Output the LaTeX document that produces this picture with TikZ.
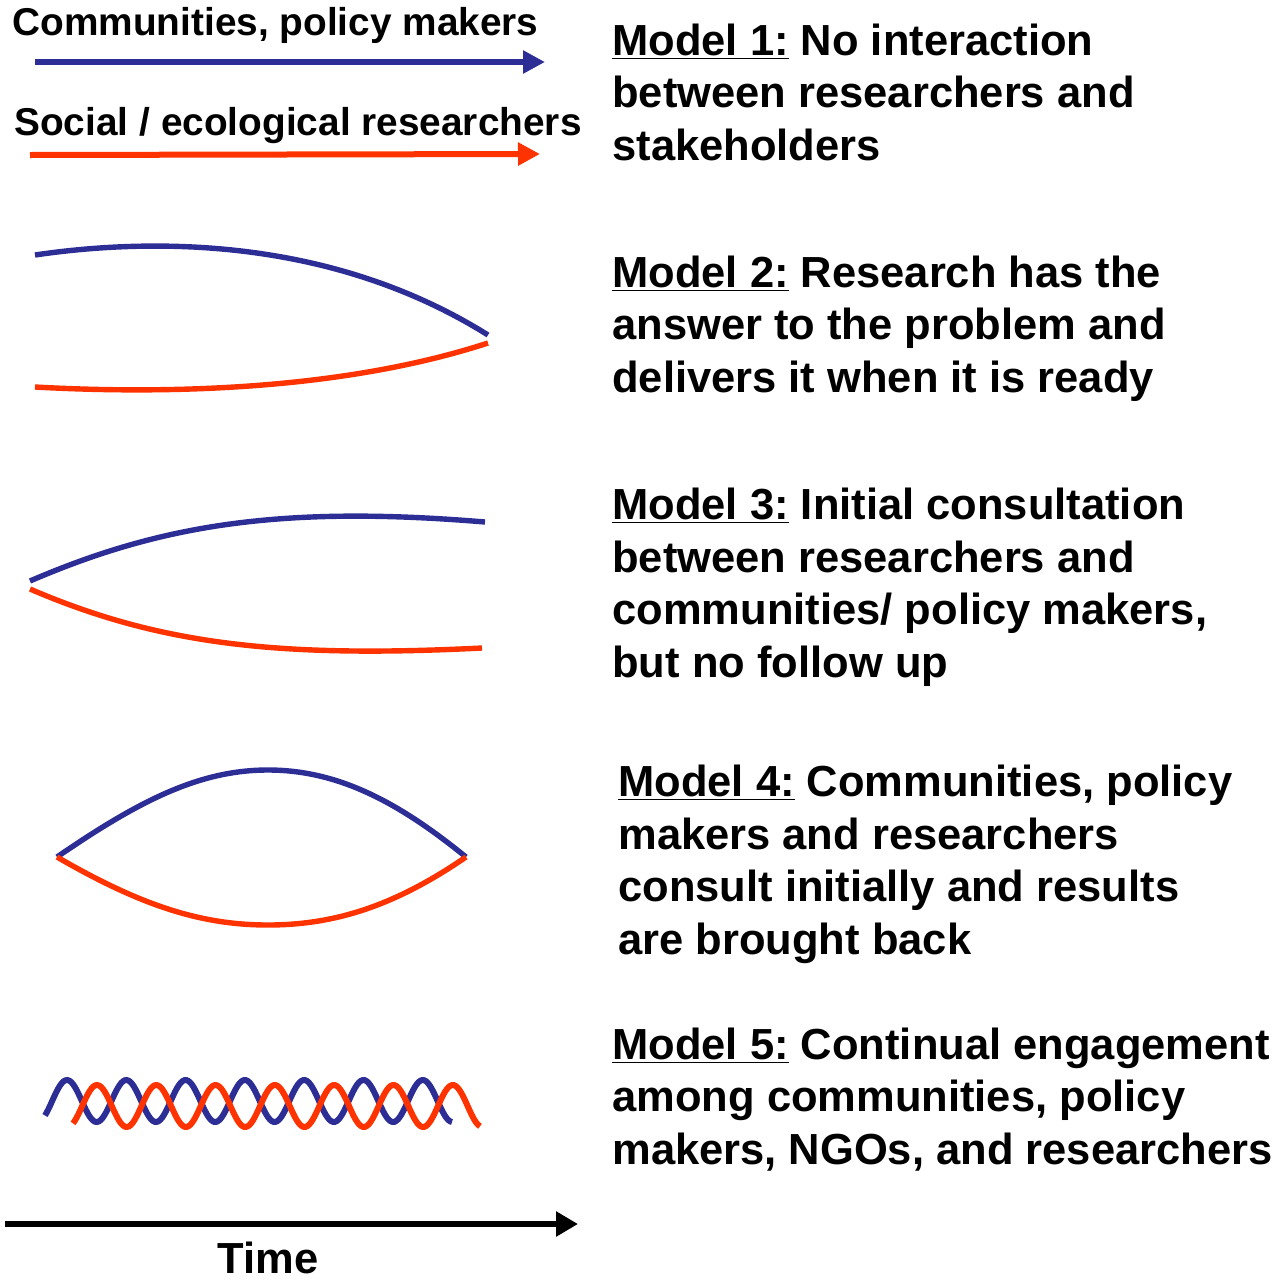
\documentclass[tikz,border=0pt]{standalone}
\usepackage{fontspec}
\setmainfont{Liberation Sans}
\usetikzlibrary{arrows.meta,positioning}

\definecolor{commblue}{RGB}{44,46,150}
\definecolor{resred}{RGB}{255,51,0}

\tikzset{model/.style = {anchor=base west, align=left, inner sep=0pt, font=\fontsize{21.75}{26.25}\selectfont\bfseries}}

\begin{document}
\begin{tikzpicture}[x=0.5pt, y=-0.5pt]
            % Define line styles
            \tikzstyle{comm} = [draw=commblue, line width=2.7pt]
            \tikzstyle{res} = [draw=resred, line width=2.7pt]
            \tikzstyle{legend} = [anchor=base west, inner sep=0pt, font=\fontsize{19.4}{23}\selectfont\bfseries]
            \tikzstyle{tip} = [-{Triangle[length=11pt, width=11pt]}]

            \useasboundingbox (0,0) rectangle (1277,1280);

            % Legend (top left)
            \node[legend] (commlabel) at (12,35) {Communities, policy makers};
            \node[legend] (reslabel) at (14,135) {Social / ecological researchers};
            \coordinate (c1s) at (35,62);
            \coordinate (c1e) at (545,62);
            \coordinate (r1s) at (30,155);
            \coordinate (r1e) at (540,154);
            \draw[comm, tip, line width=3pt] (c1s) -- (c1e);
            \draw[res, tip, line width=3pt] (r1s) -- (r1e);

            % Model texts (right column, placed at the baseline of their last line)
            \node[model] (m1) at (612,160) {\underline{Model 1:} No interaction\\ between researchers and\\ stakeholders};
            \node[model] (m2) at (612,392) {\underline{Model 2:} Research has the\\ answer to the problem and\\ delivers it when it is ready};
            \node[model] (m3) at (612,677) {\underline{Model 3:} Initial consultation\\ between researchers and\\ communities/ policy makers,\\ but no follow up};
            \node[model] (m4) at (618,954) {\underline{Model 4:} Communities, policy\\ makers and researchers\\ consult initially and results\\ are brought back};
            \node[model] (m5) at (612,1164) {\underline{Model 5:} Continual engagement\\ among communities, policy\\ makers, NGOs, and researchers};

            % Model 2: research delivered at the end
            \coordinate (c2s) at (35,255);
            \coordinate (r2s) at (35,387);
            \coordinate (m2end) at (488,339);
            \draw[comm] (c2s) .. controls (150,238) and (330,236) .. ([yshift=2pt]m2end);
            \draw[res] (r2s) .. controls (180,395) and (350,388) .. ([yshift=-2pt]m2end);

            % Model 3: consultation at the start only
            \coordinate (m3start) at (30,585);
            \coordinate (c3e) at (485,522);
            \coordinate (r3e) at (482,648);
            \draw[comm] ([yshift=2pt]m3start) .. controls (160,525) and (280,505) .. (c3e);
            \draw[res] ([yshift=-2pt]m3start) .. controls (160,645) and (280,658) .. (r3e);

            % Model 4: consult at start and bring results back
            \coordinate (m4start) at (57,857);
            \coordinate (m4top) at (268,770);
            \coordinate (m4bot) at (268,925);
            \coordinate (m4end) at (466,857);
            \draw[comm] (m4start) .. controls (140,800) and (200,770) .. (m4top) .. controls (336,770) and (396,800) .. (m4end);
            \draw[res] (m4start) .. controls (140,905) and (200,925) .. (m4bot) .. controls (336,925) and (396,905) .. (m4end);

            % Model 5: continual engagement (two interleaved waves)
            \draw[comm, line width=3pt] plot[domain=45:452, samples=220, smooth] (\x, {1101 - 21*sin(6.0708*(\x-67) + 90)});
            \draw[res, line width=3pt] plot[domain=73:480, samples=220, smooth] (\x, {1106 - 21*sin(6.0708*(\x-97) + 90)});

            % Time axis
            \coordinate (t0) at (5,1224);
            \coordinate (t1) at (578,1224);
            \draw[line width=3.2pt, -{Triangle[length=11pt, width=12pt]}] (t0) -- (t1);
            \node[anchor=base, inner sep=0pt, font=\fontsize{21.75}{26.25}\selectfont\bfseries] (time) at (268,1273) {Time};

        \end{tikzpicture}
\end{document}
